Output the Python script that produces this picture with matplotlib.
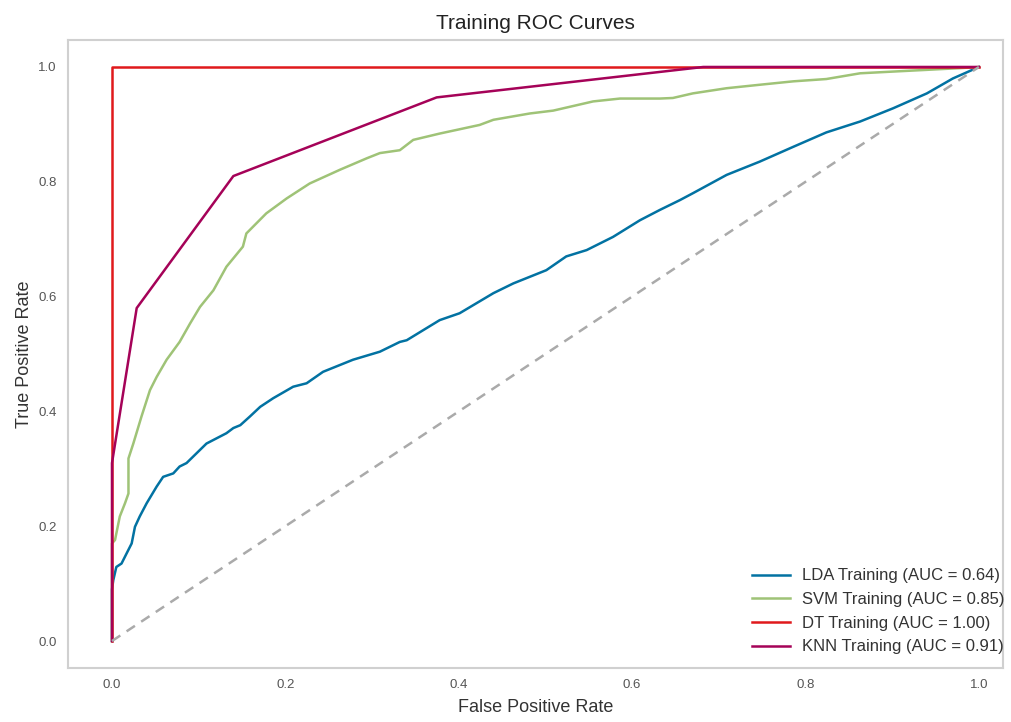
import matplotlib
matplotlib.use('Agg')
import matplotlib.pyplot as plt

plt.rcParams['font.family'] = ['Liberation Sans', 'DejaVu Sans']

# ROC points per model (fpr, tpr)
lda_fpr = [0.0, 0.0, 0.0015, 0.005, 0.011, 0.017, 0.0227, 0.0265, 0.032, 0.040, 0.0515,
           0.059, 0.0707, 0.078, 0.086, 0.109, 0.132, 0.140, 0.148, 0.159, 0.171, 0.186,
           0.209, 0.2245, 0.2435, 0.278, 0.309, 0.332, 0.340, 0.378, 0.401, 0.44, 0.463,
           0.501, 0.524, 0.5475, 0.578, 0.609, 0.632, 0.655, 0.670, 0.709, 0.747, 0.786,
           0.824, 0.863, 0.901, 0.94, 0.970, 1.0]
lda_tpr = [0.0, 0.09, 0.106, 0.129, 0.135, 0.153, 0.170, 0.199, 0.217, 0.240, 0.269,
           0.286, 0.292, 0.304, 0.31, 0.344, 0.362, 0.371, 0.376, 0.391, 0.408, 0.423,
           0.443, 0.449, 0.469, 0.490, 0.504, 0.521, 0.524, 0.559, 0.571, 0.606, 0.623,
           0.646, 0.670, 0.681, 0.704, 0.733, 0.751, 0.768, 0.780, 0.812, 0.835, 0.861,
           0.886, 0.905, 0.928, 0.954, 0.980, 1.0]

svm_fpr = [0.0, 0.0, 0.0035, 0.009, 0.015, 0.019, 0.019, 0.0246, 0.034, 0.0438, 0.0515,
           0.063, 0.078, 0.09, 0.1015, 0.117, 0.132, 0.151, 0.155, 0.178, 0.2015, 0.228,
           0.263, 0.294, 0.309, 0.332, 0.3475, 0.378, 0.424, 0.44, 0.482, 0.509, 0.555,
           0.586, 0.632, 0.647, 0.670, 0.709, 0.747, 0.786, 0.824, 0.863, 0.901, 0.94,
           0.978, 1.0]
svm_tpr = [0.0, 0.17, 0.176, 0.217, 0.24, 0.257, 0.318, 0.344, 0.391, 0.437, 0.46,
           0.49, 0.521, 0.553, 0.582, 0.611, 0.652, 0.687, 0.710, 0.745, 0.771, 0.797,
           0.821, 0.841, 0.850, 0.855, 0.873, 0.884, 0.899, 0.908, 0.919, 0.924, 0.940,
           0.945, 0.945, 0.946, 0.954, 0.963, 0.969, 0.975, 0.979, 0.989, 0.992, 0.995,
           0.998, 1.0]

dt_fpr = [0.0, 0.0, 1.0]
dt_tpr = [0.0, 1.0, 1.0]

knn_fpr = [0.0, 0.0, 0.0285, 0.140, 0.3745, 0.682, 1.0]
knn_tpr = [0.0, 0.31, 0.58, 0.81, 0.947, 1.0, 1.0]

models = ['LDA', 'SVM', 'DT', 'KNN']
aucs = [0.64, 0.85, 1.00, 0.91]
colors = ['#0272a2', '#9fc377', '#e0191c', '#a50258']
curves = [(lda_fpr, lda_tpr), (svm_fpr, svm_tpr), (dt_fpr, dt_tpr), (knn_fpr, knn_tpr)]

fig = plt.figure(figsize=(10.11, 7.22), dpi=100)
ax = fig.add_axes([0.0673, 0.0748, 0.9247, 0.8698])

for name, auc, c, (fpr, tpr) in zip(models, aucs, colors, curves):
    ax.plot(fpr, tpr, color=c, lw=1.8, label=f'{name} Training (AUC = {auc:.2f})')

# chance line
ax.plot([0, 1], [0, 1], linestyle='--', color='#aaaaaa', lw=1.8, dashes=(4, 3))

ax.set_xlim(-0.0507, 1.0277)
ax.set_ylim(-0.047, 1.047)
ax.set_xticks([0.0, 0.2, 0.4, 0.6, 0.8, 1.0])
ax.set_yticks([0.0, 0.2, 0.4, 0.6, 0.8, 1.0])
ax.tick_params(length=0, labelsize=9.5, colors='#555555', pad=8)
for s in ax.spines.values():
    s.set_color('#d0d0d0')
    s.set_linewidth(1.5)

ax.set_title('Training ROC Curves', fontsize=15, color='#222222', pad=8)
ax.set_xlabel('False Positive Rate', fontsize=13, color='#333333', labelpad=6)
ax.set_ylabel('True Positive Rate', fontsize=13, color='#333333', labelpad=4)

ax.legend(loc='lower right', bbox_to_anchor=(1.014, 0.003), frameon=False,
          fontsize=12, handlelength=2.3, handletextpad=0.7, labelspacing=0.52,
          borderaxespad=0.3, labelcolor='#333333')

fig.savefig('out.png', dpi=100)
